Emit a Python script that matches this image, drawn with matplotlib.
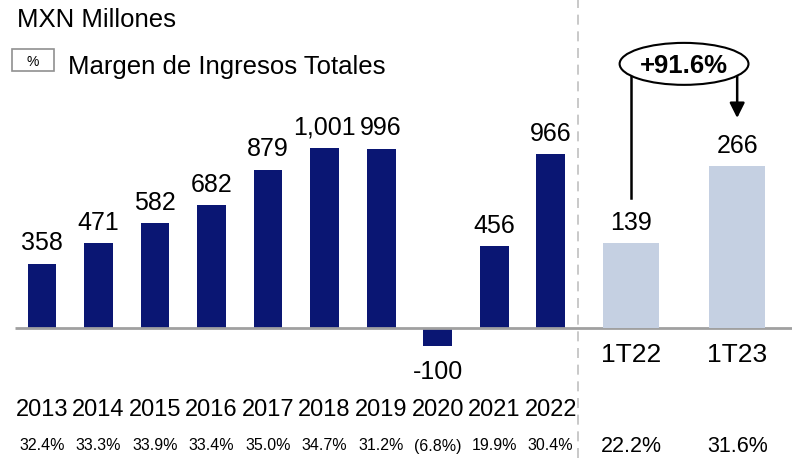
import numpy as np
import matplotlib
matplotlib.use('Agg')
import matplotlib.pyplot as plt
from matplotlib.patches import Ellipse, Rectangle
from matplotlib.transforms import blended_transform_factory

plt.rcParams['font.family'] = ['Liberation Sans', 'DejaVu Sans']

# Data
# ----------------------------------------------------------------------------------------------
years = ['2013', '2014', '2015', '2016', '2017', '2018', '2019', '2020', '2021', '2022']
year_vals = [358, 471, 582, 682, 879, 1001, 996, -100, 456, 966]
year_margin = ['32.4%', '33.3%', '33.9%', '33.4%', '35.0%', '34.7%', '31.2%', '(6.8%)', '19.9%', '30.4%']

quarters = ['1T22', '1T23']
quarter_vals = [139, 266]
quarter_margin = ['22.2%', '31.6%']

growth_label = '+91.6%'

navy = '#0a1673'
light = '#c5d0e2'

# Layout
# ----------------------------------------------------------------------------------------------
fig = plt.figure(figsize=(7.92, 4.58), dpi=100)
ax = fig.add_axes([0, 0, 1, 1])
ax.set_xlim(-0.743, 13.27)
ax.set_ylim(-722, 1822)
ax.axis('off')

# quarterly bars use their own scale
axq = fig.add_axes([0, 0, 1, 1])
axq.set_xlim(-0.743, 13.27)
axq.set_ylim(-214, 539)
axq.axis('off')
axq.patch.set_visible(False)

xy = np.arange(len(years))
xq = np.array([10.42, 12.30])

ax.bar(xy, year_vals, width=0.51, color=navy, zorder=2)
axq.bar(xq, quarter_vals, width=1.0, color=light, zorder=2)

# baseline
ax.plot([-0.48, 13.27], [0, 0], color='#a0a0a0', lw=2, zorder=3, solid_capstyle='butt')
# separator
ax.axvline(9.48, color='#c0c0c0', lw=1.2, ls=(0, (6, 4)), zorder=1)

def fmt(v):
    return '{:,}'.format(v)

for x, v in zip(xy, year_vals):
    if v >= 0:
        ax.annotate(fmt(v), (x, v), xytext=(0, 6), textcoords='offset points',
                    ha='center', va='bottom', fontsize=18)
    else:
        ax.annotate(fmt(v), (x, v), xytext=(0, -10), textcoords='offset points',
                    ha='center', va='top', fontsize=18)
for x, v in zip(xq, quarter_vals):
    axq.annotate(fmt(v), (x, v), xytext=(0, 6), textcoords='offset points',
                 ha='center', va='bottom', fontsize=18)

tr = blended_transform_factory(ax.transData, fig.transFigure)
for x, lab, m in zip(xy, years, year_margin):
    ax.text(x, 1 - 410 / 458, lab, transform=tr, ha='center', va='center', fontsize=17)
    ax.text(x, 1 - 446 / 458, m, transform=tr, ha='center', va='center', fontsize=11.5)
for x, lab, m in zip(xq, quarters, quarter_margin):
    ax.text(x, 1 - 355 / 458, lab, transform=tr, ha='center', va='center', fontsize=19)
    ax.text(x, 1 - 446 / 458, m, transform=tr, ha='center', va='center', fontsize=15.5)

# growth annotation
xm = xq.mean()
axq.add_patch(Ellipse((xm, 434), 2.28, 69, facecolor='white', edgecolor='black', lw=1.5, zorder=5))
axq.text(xm, 430, growth_label, ha='center', va='center', fontsize=18.5, fontweight='bold', zorder=6)
axq.plot([xq[0], xq[0]], [414, quarter_vals[0] + 75], color='black', lw=1.8, zorder=4)
axq.annotate('', xy=(xq[1], quarter_vals[1] + 79), xytext=(xq[1], 414),
             arrowprops=dict(arrowstyle='-|>,head_length=0.9,head_width=0.45', color='black', lw=1.8,
                             shrinkA=0, shrinkB=0), zorder=4)

# header
fig.text(17 / 792, 1 - 27 / 458, 'MXN Millones', ha='left', va='baseline', fontsize=18.5)
fig.patches.append(Rectangle((12 / 792, 1 - 71 / 458), 42 / 792, 22 / 458, transform=fig.transFigure,
                             facecolor='white', edgecolor='#909090', lw=1.2, figure=fig))
fig.text(33 / 792, 1 - 62.5 / 458, '%', ha='center', va='center', fontsize=10)
fig.text(68 / 792, 1 - 74 / 458, 'Margen de Ingresos Totales', ha='left', va='baseline', fontsize=18.5)

plt.savefig('out.png', dpi=100)
